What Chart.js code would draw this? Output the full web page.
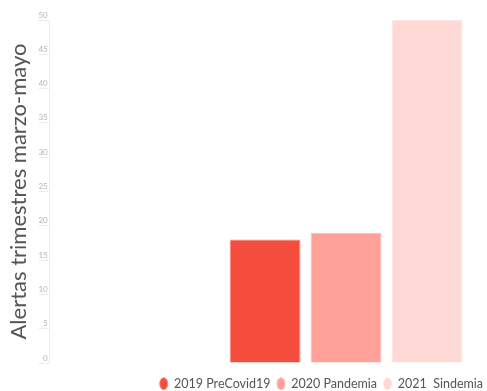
<!DOCTYPE html>
<html>
<head>
<meta charset="utf-8">
<script src="https://cdn.jsdelivr.net/npm/chart.js@4/dist/chart.umd.min.js"></script>
<style>
  html, body { margin: 0; padding: 0; background: #ffffff; }
  #wrap { width: 487px; height: 391px; }
</style>
</head>
<body>
<div id="wrap"><canvas id="c" width="487" height="391"></canvas></div>
<script>
// ---- data ----
const seriesLabels = ['2019 PreCovid19', '2020 Pandemia', '2021  Sindemia'];
const seriesValues = [18, 19, 50];
const seriesColors = ['#F44C3D', '#FFA199', '#FFD9D6'];
const seriesBorders = ['#F98A80', '#FFB9B3', '#FFE6E4'];
const yTicks = [0, 5, 10, 15, 20, 25, 30, 35, 40, 45, 50];
const yTitle = 'Alertas trimestres marzo-mayo';

const datasets = seriesLabels.map((lab, i) => ({
  label: lab,
  data: [{ x: i, y: seriesValues[i] }],
  backgroundColor: seriesColors[i],
  borderColor: seriesBorders[i],
  borderWidth: 1,
  grouped: false,
  categoryPercentage: 1,
  barPercentage: 0.875
}));

new Chart(document.getElementById('c'), {
  type: 'bar',
  data: { datasets },
  options: {
    responsive: false,
    animation: false,
    layout: { padding: { left: 6, right: -2.5, top: 20, bottom: -9 } },
    scales: {
      x: {
        type: 'linear',
        offset: false,
        min: -2.66,
        max: 2.74,
        border: { display: false },
        grid: { display: true, drawOnChartArea: false, color: 'rgba(0,0,0,0)', tickLength: 8 },
        ticks: { display: false, stepSize: 1, includeBounds: false }
      },
      y: {
        min: yTicks[0],
        max: yTicks[yTicks.length - 1],
        afterBuildTicks: (axis) => { axis.ticks = yTicks.map(v => ({ value: v })); },
        border: { display: true, color: '#ececec' },
        grid: { drawOnChartArea: false, color: '#ececec', tickLength: 11 },
        ticks: {
          font: { family: 'Lato', size: 8 },
          color: '#b5b5b5',
          padding: -9,
          labelOffset: -5
        },
        title: {
          display: true,
          text: yTitle,
          font: { family: 'Lato', size: 22 },
          color: '#555555',
          padding: { top: 0, bottom: 15 }
        }
      }
    },
    plugins: {
      legend: {
        position: 'bottom',
        align: 'end',
        labels: {
          usePointStyle: true,
          pointStyle: 'circle',
          pointStyleWidth: 8,
          boxHeight: 8.5,
          font: { family: 'Lato', size: 12.5 },
          color: '#555555',
          padding: 6.5
        }
      },
      tooltip: { enabled: false }
    }
  }
});
</script>
</body>
</html>
